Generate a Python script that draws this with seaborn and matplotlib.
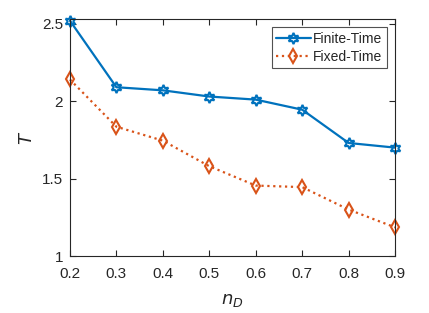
import matplotlib
matplotlib.use("Agg")
import matplotlib.pyplot as plt
import seaborn as sns
import pandas as pd

n_d = [0.2, 0.3, 0.4, 0.5, 0.6, 0.7, 0.8, 0.9]
finite_time = [2.52, 2.09, 2.07, 2.03, 2.01, 1.945, 1.73, 1.70]
fixed_time = [2.14, 1.835, 1.745, 1.58, 1.455, 1.445, 1.30, 1.185]

sns.set_style("ticks")
plt.rcParams['font.family'] = ['Liberation Sans', 'DejaVu Sans']

df = pd.DataFrame({
    "n_D": n_d * 2,
    "T": finite_time + fixed_time,
    "method": ["Finite-Time"] * len(n_d) + ["Fixed-Time"] * len(n_d),
})

fig = plt.figure(figsize=(4.29, 3.13), dpi=100)
ax = fig.add_axes([0.163, 0.182, 0.758, 0.757])

blue = "#0072BD"
orange = "#D95319"

sns.lineplot(data=df[df.method == "Finite-Time"], x="n_D", y="T", ax=ax,
             color=blue, lw=1.6, marker=(6, 1, 0), markersize=8,
             markerfacecolor="none", markeredgecolor=blue, markeredgewidth=1.5,
             label="Finite-Time", clip_on=False)
sns.lineplot(data=df[df.method == "Fixed-Time"], x="n_D", y="T", ax=ax,
             color=orange, lw=1.6, ls=":", marker="d", markersize=7.5,
             markerfacecolor="none", markeredgecolor=orange, markeredgewidth=1.5,
             label="Fixed-Time", clip_on=False)

ax.set_xlim(0.2, 0.9)
ax.set_ylim(1, 2.53)
ax.set_xticks(n_d)
ax.set_xticklabels(["0.2", "0.3", "0.4", "0.5", "0.6", "0.7", "0.8", "0.9"])
ax.set_yticks([1, 1.5, 2, 2.5])
ax.set_yticklabels(["1", "1.5", "2", "2.5"])
ax.tick_params(direction="in", top=True, right=True, length=4, width=0.8,
               labelsize=11, colors="#262626")
ax.tick_params(axis="x", pad=8)
ax.tick_params(axis="y", pad=5)
for s in ax.spines.values():
    s.set_visible(True)
    s.set_color("#262626")
    s.set_linewidth(0.8)

ax.set_xlabel("$n_D$", fontsize=13, color="#262626", labelpad=8)
ax.set_ylabel("$T$", fontsize=13, color="#262626", labelpad=4)

leg = ax.legend(loc="upper right", fontsize=10, frameon=True, fancybox=False,
                edgecolor="#262626", borderpad=0.3, handlelength=2.5,
                handletextpad=0.2, labelspacing=0.3, borderaxespad=0.6)
leg.get_frame().set_linewidth(0.8)

fig.savefig("out.png", dpi=100)
